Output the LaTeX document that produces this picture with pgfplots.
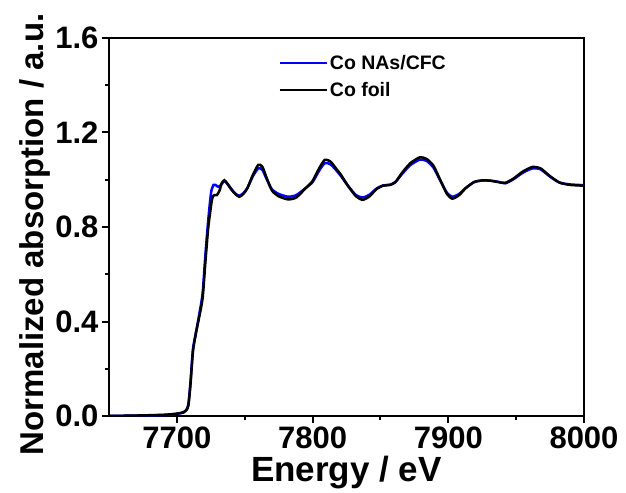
\documentclass[border=0pt]{standalone}
\usepackage{fontspec}
\setmainfont{Liberation Sans}
\usepackage{pgfplots}
\pgfplotsset{compat=1.18}
\begin{document}
\begin{tikzpicture}
\begin{axis}[
  at={(0,0)}, anchor=south west,
  scale only axis,
  width=475bp, height=378bp,
  xmin=7650, xmax=8000, ymin=0, ymax=1.6,
  xtick={7700,7800,7900,8000},
  ytick={0,0.4,0.8,1.2,1.6},
  minor x tick num=1, minor y tick num=1,
  xtick pos=bottom, ytick pos=left,
  tick align=outside,
  major tick length=7bp, minor tick length=4bp,
  axis line style={line width=2.5bp},
  every tick/.style={line width=2bp, black},
  /pgf/number format/assume math mode=true,
  /pgf/number format/.cd, fixed, fixed zerofill, precision=1, 1000 sep={},
  /pgfplots/.cd,
  xticklabel style={/pgf/number format/precision=0, /pgf/number format/fixed zerofill=false},
  tick label style={font=\fontsize{31bp}{36bp}\selectfont\bfseries},
  xlabel={Energy / eV},
  ylabel={Normalized absorption / a.u.},
  xlabel style={font=\fontsize{35bp}{40bp}\selectfont\bfseries, yshift=-1bp},
  ylabel style={font=\fontsize{33bp}{38bp}\selectfont\bfseries, at={(ticklabel cs:0.48)}, yshift=-2bp},
  legend style={draw=none, fill=none, at={(0.35,0.965)}, anchor=north west,
    font=\fontsize{19.5bp}{22bp}\selectfont\bfseries, row sep=7bp,
    /tikz/every odd column/.append style={column sep=0bp}},
  legend cell align=left,
  legend image code/.code={\draw[#1, line width=2.5bp] (0bp,0bp) -- (47bp,0bp);},
]
\addplot[blue, line width=2.5bp, smooth, tension=0.4] coordinates {
(7650,0.000) (7670,0.002) (7690,0.004) (7700,0.009) (7705,0.015) (7707,0.025)
(7708.5,0.05) (7710,0.14) (7711,0.22) (7712,0.29) (7714,0.35) (7716.5,0.43)
(7719,0.52) (7721,0.68) (7723,0.82) (7724.5,0.91) (7725.5,0.955) (7727,0.978)
(7728.5,0.978) (7730.5,0.970) (7732.5,0.978) (7735,0.995) (7737,0.985) (7740,0.962)
(7743,0.942) (7746,0.932) (7749,0.943) (7752,0.965) (7756,1.015) (7760,1.048)
(7763,1.042) (7766,1.005) (7770,0.960) (7775,0.940) (7782,0.928) (7788,0.935)
(7795,0.965) (7800,0.990) (7805,1.040) (7809,1.070) (7813,1.066) (7817,1.043)
(7821,1.015) (7826,0.975) (7832,0.935) (7837,0.925) (7842,0.937) (7847,0.962)
(7852,0.976) (7857,0.979) (7861,0.990) (7866,1.025) (7872,1.062) (7879,1.085)
(7884,1.080) (7889,1.052) (7894,0.998) (7899,0.945) (7903,0.928) (7908,0.940)
(7913,0.966) (7919,0.990) (7925,0.997) (7931,0.996) (7937,0.991) (7942,0.985)
(7948,1.002) (7955,1.030) (7962,1.048) (7968,1.044) (7975,1.013) (7982,0.988)
(7990,0.980) (8000,0.977)
};
\addlegendentry{Co NAs/CFC}
\addplot[black, line width=2.5bp, smooth, tension=0.4] coordinates {
(7650,0.000) (7670,0.002) (7690,0.005) (7700,0.010) (7705,0.016) (7707,0.025)
(7708.5,0.045) (7710,0.13) (7711,0.21) (7712,0.28) (7714,0.35) (7716.5,0.42)
(7719,0.50) (7721,0.65) (7723,0.79) (7724.5,0.86) (7726,0.92) (7727.5,0.935)
(7729.5,0.935) (7731.5,0.955) (7733,0.985) (7735,0.998) (7737,0.985) (7740,0.960)
(7743,0.940) (7746,0.928) (7749,0.940) (7752,0.965) (7756,1.020) (7760,1.063)
(7763,1.055) (7766,1.010) (7770,0.955) (7775,0.930) (7782,0.917) (7788,0.925)
(7795,0.965) (7800,0.995) (7805,1.050) (7809,1.084) (7813,1.078) (7817,1.050)
(7821,1.020) (7826,0.975) (7832,0.930) (7837,0.915) (7842,0.930) (7847,0.960)
(7852,0.975) (7857,0.978) (7861,0.990) (7866,1.030) (7872,1.070) (7879,1.095)
(7884,1.088) (7889,1.060) (7894,1.000) (7899,0.940) (7903,0.920) (7908,0.935)
(7913,0.965) (7919,0.990) (7925,0.997) (7931,0.996) (7937,0.990) (7942,0.987)
(7948,1.005) (7955,1.035) (7962,1.054) (7968,1.048) (7975,1.015) (7982,0.988)
(7990,0.978) (8000,0.975)
};
\addlegendentry{Co foil}
\end{axis}
\pgfresetboundingbox
\path[use as bounding box] (-109bp,-77bp) rectangle (517bp,416bp);
\end{tikzpicture}
\end{document}
